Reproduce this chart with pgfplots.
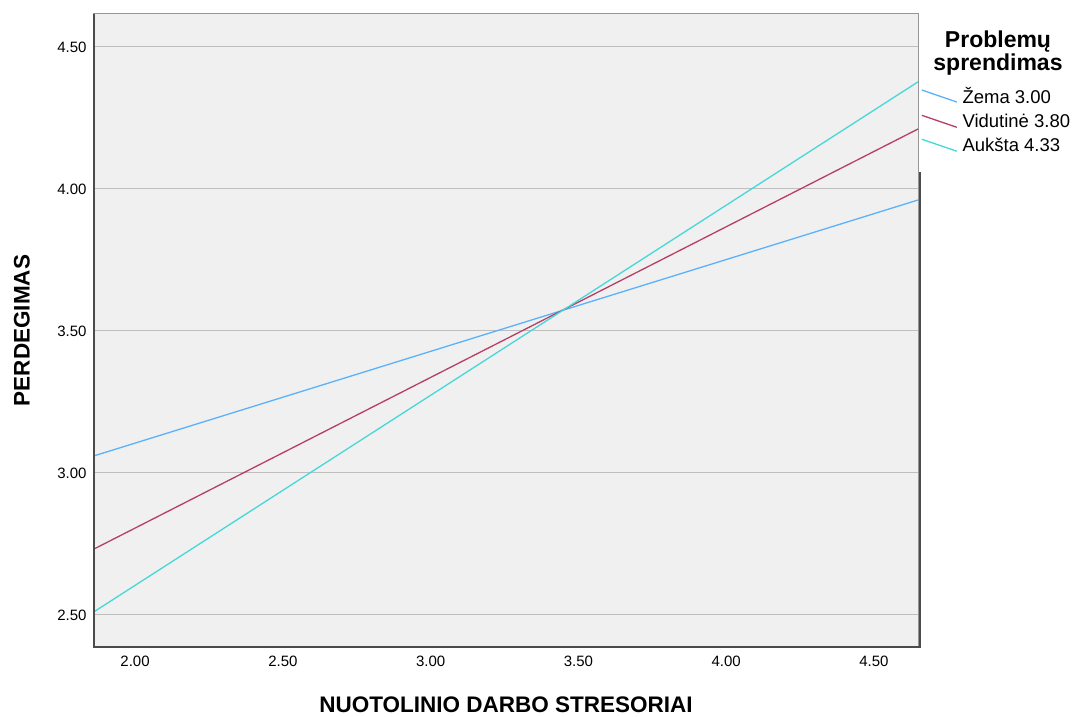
\documentclass[border=0pt]{standalone}
\usepackage{pgfplots}
\pgfplotsset{compat=1.18}
\usepackage{fontspec}
\setmainfont{Liberation Sans}
\definecolor{bgc}{RGB}{240,240,240}
\definecolor{gridc}{RGB}{190,190,190}
\definecolor{framec}{RGB}{150,150,150}
\definecolor{darkc}{RGB}{75,75,75}
\definecolor{lblue}{RGB}{90,178,252}
\definecolor{lred}{RGB}{183,62,101}
\definecolor{lcyan}{RGB}{70,216,215}
\begin{document}
\begin{tikzpicture}
\useasboundingbox (-94pt,-70pt) rectangle (979pt,647pt);
\begin{axis}[
  at={(0,0)}, anchor=south west,
  scale only axis, width=824pt, height=633pt,
  xmin=1.861, xmax=4.649, ymin=2.387, ymax=4.616,
  xtick={2,2.5,3,3.5,4,4.5},
  xticklabels={2.00,2.50,3.00,3.50,4.00,4.50},
  ytick={2.5,3,3.5,4,4.5},
  yticklabels={2.50,3.00,3.50,4.00,4.50},
  major tick length=0pt,
  ymajorgrids,
  grid style={color=gridc, line width=1pt},
  axis background/.style={fill=bgc},
  axis line style={draw=framec, line width=1pt},
  tick label style={font=\fontsize{15}{18}\selectfont},
  /pgf/number format/assume math mode=true,
  xticklabel style={yshift=-5pt},
  yticklabel style={xshift=-4pt},
  xlabel={\bfseries NUOTOLINIO DARBO STRESORIAI},
  ylabel={\bfseries PERDEGIMAS},
  xlabel style={at={(axis description cs:0.5,-0.0905)}, anchor=center, font=\fontsize{22.5}{26}\selectfont},
  ylabel style={at={(axis description cs:-0.0874,0.5)}, anchor=center, font=\fontsize{22.5}{26}\selectfont},
  legend style={at={(axis description cs:1,1)}, anchor=north west, xshift=1pt, yshift=-69pt,
    draw=none, fill=none, font=\fontsize{18.5}{22}\selectfont, row sep=5pt, inner xsep=2pt},
  legend cell align=left,
  legend image code/.code={\draw[#1] (0pt,6pt) -- (35pt,-6pt); \path (38pt,0pt);},
]
\addplot[lblue, line width=1.3pt] coordinates {(1.861,3.060) (4.649,3.961)};
\addlegendentry{Žema 3.00}
\addplot[lred, line width=1.3pt] coordinates {(1.861,2.732) (4.649,4.211)};
\addlegendentry{Vidutinė 3.80}
\addplot[lcyan, line width=1.3pt] coordinates {(1.861,2.511) (4.649,4.377)};
\addlegendentry{Aukšta 4.33}
\end{axis}
\draw[darkc, line width=2pt] (0pt,633pt) -- (0pt,0pt) -- (826pt,0pt) -- (826pt,475pt);
\node[font=\bfseries\fontsize{23}{23}\selectfont, align=center] at (904pt,594pt) {Problemų\\sprendimas};
\end{tikzpicture}
\end{document}
